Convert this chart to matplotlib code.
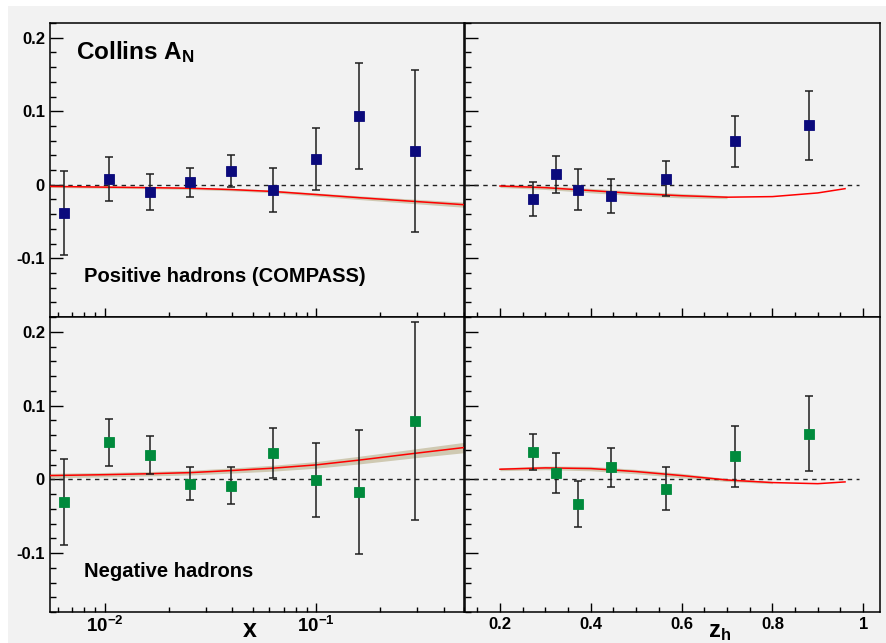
import matplotlib
matplotlib.use("Agg")
import matplotlib.pyplot as plt
from matplotlib.ticker import FixedLocator, MultipleLocator, LogLocator, NullFormatter, FixedFormatter
from matplotlib.patches import Rectangle

plt.rcParams["font.family"] = ["Liberation Sans", "DejaVu Sans"]
plt.rcParams["font.weight"] = "bold"
plt.rcParams["mathtext.fontset"] = "custom"
plt.rcParams["mathtext.rm"] = "Liberation Sans:bold"
plt.rcParams["mathtext.bf"] = "Liberation Sans:bold"
plt.rcParams["mathtext.it"] = "Liberation Sans:bold"

# --- measured asymmetries (COMPASS deuteron, Collins) ---
x_bins = [0.0064, 0.0105, 0.0164, 0.0254, 0.0396, 0.0624, 0.100, 0.160, 0.293]
z_bins = [0.273, 0.323, 0.372, 0.445, 0.565, 0.717, 0.881]

pos_x_val = [-0.038, 0.008, -0.010, 0.003, 0.019, -0.007, 0.035, 0.094, 0.046]
pos_x_err = [0.057, 0.030, 0.024, 0.020, 0.022, 0.030, 0.042, 0.072, 0.110]
pos_z_val = [-0.019, 0.014, -0.007, -0.015, 0.008, 0.059, 0.081]
pos_z_err = [0.023, 0.025, 0.028, 0.023, 0.024, 0.035, 0.047]

neg_x_val = [-0.031, 0.050, 0.033, -0.006, -0.009, 0.036, -0.001, -0.017, 0.079]
neg_x_err = [0.058, 0.032, 0.026, 0.022, 0.025, 0.034, 0.050, 0.084, 0.134]
neg_z_val = [0.037, 0.008, -0.034, 0.016, -0.013, 0.031, 0.062]
neg_z_err = [0.025, 0.027, 0.031, 0.026, 0.029, 0.041, 0.051]

# --- model curves with uncertainty bands ---
curve_x = [0.0055, 0.0100, 0.0163, 0.0254, 0.0396, 0.0624, 0.100, 0.160, 0.290, 0.500]
pos_x_fit = [-0.0023, -0.0033, -0.0040, -0.0048, -0.0066, -0.0092, -0.0134, -0.0177, -0.0227, -0.0272]
pos_x_band = [0.0015, 0.0015, 0.0015, 0.0016, 0.0017, 0.0019, 0.0022, 0.0025, 0.0030, 0.0035]
neg_x_fit = [0.0050, 0.0062, 0.0075, 0.0090, 0.0118, 0.0150, 0.0195, 0.0260, 0.0350, 0.0430]
neg_x_band = [0.0030, 0.0030, 0.0030, 0.0032, 0.0035, 0.0040, 0.0045, 0.0052, 0.0060, 0.0070]

curve_z = [0.20, 0.30, 0.40, 0.50, 0.60, 0.70, 0.80, 0.90, 0.96]
pos_z_fit = [-0.0018, -0.0040, -0.0080, -0.0120, -0.0150, -0.0170, -0.0162, -0.0112, -0.0054]
neg_z_fit = [0.0136, 0.0154, 0.0145, 0.0104, 0.0050, -0.0010, -0.0045, -0.0060, -0.0036]
pos_z_band = [0.0020, 0.0025, 0.0030, 0.0030, 0.0030, 0.0020]
neg_z_band = [0.0020, 0.0025, 0.0030, 0.0030, 0.0030, 0.0020, 0.0015]

y_ticks = [-0.1, 0.0, 0.1, 0.2]
y_tick_labels = ["-0.1", "0", "0.1", "0.2"]
x_ticks = [0.01, 0.1]
x_tick_labels = [r"$\mathbf{10^{-2}}$", r"$\mathbf{10^{-1}}$"]
z_ticks = [0.2, 0.4, 0.6, 0.8, 1.0]
z_tick_labels = ["0.2", "0.4", "0.6", "0.8", "1"]

xlim = (0.0055, 0.5)
zlim = (0.123, 1.037)
ylim = (-0.18, 0.22)

BG = "#f2f2f2"
NAVY = "#0b0a7c"
GREEN = "#008a3c"
BAND = "#cfc9b2"

W, H = 886, 643
fig = plt.figure(figsize=(W / 100, H / 100), dpi=100, facecolor="white")
fig.patches.append(Rectangle((8 / W, 0), 1 - 8 / W, (H - 6) / H,
                             transform=fig.transFigure, facecolor=BG,
                             edgecolor="none", zorder=-10))


def px_rect(x0, y0, x1, y1):
    return [x0 / W, (H - y1) / H, (x1 - x0) / W, (y1 - y0) / H]


ax_tl = fig.add_axes(px_rect(50, 23, 464, 317))
ax_tr = fig.add_axes(px_rect(465, 23, 880, 317))
ax_bl = fig.add_axes(px_rect(50, 317, 464, 612))
ax_br = fig.add_axes(px_rect(465, 317, 880, 612))


def style(ax, logx, show_xlabels, show_ylabels):
    ax.set_facecolor(BG)
    for sp in ax.spines.values():
        sp.set_linewidth(1.1)
    ax.set_ylim(*ylim)
    ax.yaxis.set_major_locator(FixedLocator(y_ticks))
    ax.yaxis.set_minor_locator(MultipleLocator(0.02))
    if show_ylabels:
        ax.yaxis.set_major_formatter(FixedFormatter(y_tick_labels))
    else:
        ax.set_yticklabels([])
    if logx:
        ax.set_xscale("log")
        ax.set_xlim(*xlim)
        ax.xaxis.set_major_locator(FixedLocator(x_ticks))
        ax.xaxis.set_minor_locator(LogLocator(base=10, subs=range(2, 10)))
        ax.xaxis.set_minor_formatter(NullFormatter())
        if show_xlabels:
            ax.xaxis.set_major_formatter(FixedFormatter(x_tick_labels))
        else:
            ax.set_xticklabels([])
    else:
        ax.set_xlim(*zlim)
        ax.xaxis.set_major_locator(FixedLocator(z_ticks))
        ax.xaxis.set_minor_locator(MultipleLocator(0.05))
        if show_xlabels:
            ax.xaxis.set_major_formatter(FixedFormatter(z_tick_labels))
        else:
            ax.set_xticklabels([])
    ax.tick_params(which="both", direction="in", top=False, right=False,
                   width=1.0, labelsize=12, pad=3.6)
    ax.tick_params(axis="y", which="major", length=9)
    ax.tick_params(axis="y", which="minor", length=4.5)
    ax.tick_params(axis="x", which="major", length=6.5)
    ax.tick_params(axis="x", which="minor", length=3.6)
    if logx:
        ax.tick_params(axis="x", which="major", labelsize=13.5, pad=3.0)
    for lab in ax.get_xticklabels() + ax.get_yticklabels():
        lab.set_fontweight("bold")


def draw(ax, xs, vals, errs, color, cx, fit, band, zero_end):
    nb = len(band)
    ax.fill_between(cx[:nb], [f - b for f, b in zip(fit[:nb], band)],
                    [f + b for f, b in zip(fit[:nb], band)],
                    color=BAND, lw=0, zorder=2)
    ax.plot(cx, fit, color="#ff0000", lw=1.1, zorder=3)
    ax.hlines(0, ax.get_xlim()[0], zero_end, colors="#222222",
              linestyles=(0, (3.2, 3.2)), lw=1.0, zorder=2.5)
    ax.errorbar(xs, vals, yerr=errs, fmt="none", ecolor="#1e1e1e",
                elinewidth=1.1, capsize=3, capthick=1.1, zorder=4)
    ax.plot(xs, vals, "s", ms=7.4, color=color, mec=color, mew=0.6, zorder=5)


style(ax_tl, True, False, True)
style(ax_bl, True, True, True)
style(ax_tr, False, False, False)
style(ax_br, False, True, False)

draw(ax_tl, x_bins, pos_x_val, pos_x_err, NAVY, curve_x, pos_x_fit, pos_x_band, xlim[1])
draw(ax_bl, x_bins, neg_x_val, neg_x_err, GREEN, curve_x, neg_x_fit, neg_x_band, xlim[1])
draw(ax_tr, z_bins, pos_z_val, pos_z_err, NAVY, curve_z, pos_z_fit, pos_z_band, 0.99)
draw(ax_br, z_bins, neg_z_val, neg_z_err, GREEN, curve_z, neg_z_fit, neg_z_band, 0.99)


def ftext(x, y, s, size, **kw):
    fig.text(x / W, (H - y) / H, s, fontsize=size, fontweight="bold",
             va="baseline", **kw)


ftext(76, 59, r"Collins A$_{\mathbf{N}}$", 17.5)
ftext(84, 282, "Positive hadrons (COMPASS)", 14.5)
ftext(84, 577, "Negative hadrons", 14.5)
ftext(250, 637, "x", 18, ha="center")
ftext(708, 637, r"$\mathbf{z_h}$", 17)

fig.savefig("out.png", dpi=100, facecolor="white")
